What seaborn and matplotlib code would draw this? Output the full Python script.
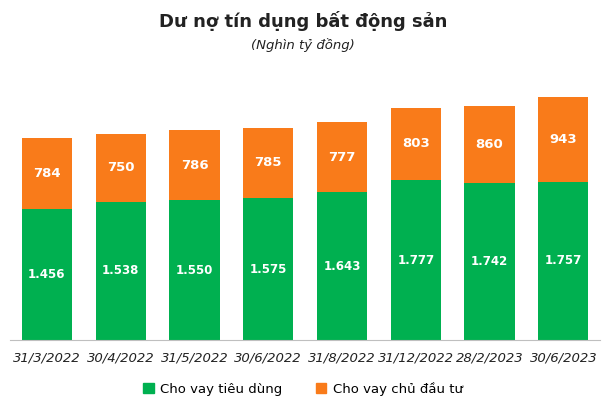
import matplotlib
matplotlib.use("Agg")
import matplotlib.pyplot as plt
import seaborn as sns
import pandas as pd
from matplotlib.patches import Patch

dates = ["31/3/2022","30/4/2022","31/5/2022","30/6/2022","31/8/2022","31/12/2022","28/2/2023","30/6/2023"]
consumer = [1456,1538,1550,1575,1643,1777,1742,1757]
developer = [784,750,786,785,777,803,860,943]

GREEN = "#00B050"
ORANGE = "#F97B1A"

def fmt(v):
    return f"{v:,}".replace(",", ".")

fig = plt.figure(figsize=(6.06,4.07), dpi=100)
ax = fig.add_axes([0.0165,0.1646,0.974,0.6265])
df = pd.DataFrame({"date":dates,"c":consumer,"d":developer})
sns.barplot(data=df, x="date", y="c", color=GREEN, width=0.68, ax=ax, saturation=1)
sns.barplot(data=df, x="date", y="d", color=ORANGE, width=0.68, ax=ax, saturation=1, bottom=df["c"])
for i,(c,d) in enumerate(zip(consumer,developer)):
    ax.text(i, c/2, fmt(c), ha="center", va="center", color="white", fontsize=8.5, fontweight="bold")
    ax.text(i, c+d/2, fmt(d), ha="center", va="center", color="white", fontsize=9.5, fontweight="bold")
ax.set_ylim(0,2833)
ax.set_xlim(-0.5,7.5)
ax.set_xlabel(""); ax.set_ylabel("")
ax.set_yticks([])
for s in ["top","right","left"]:
    ax.spines[s].set_visible(False)
ax.spines["bottom"].set_color("#BFBFBF")
ax.tick_params(axis="x", length=0, pad=8)
for t in ax.get_xticklabels():
    t.set_fontstyle("italic"); t.set_fontsize(9.5); t.set_color("#222222")
fig.text(0.5,0.948,"Dư nợ tín dụng bất động sản", ha="center", va="center", fontsize=13, fontweight="bold", color="#222222")
fig.text(0.5,0.89,"(Nghìn tỷ đồng)", ha="center", va="center", fontsize=9.5, fontstyle="italic", color="#222222")
fig.legend(handles=[Patch(color=GREEN,label="Cho vay tiêu dùng"),Patch(color=ORANGE,label="Cho vay chủ đầu tư")],
           loc="center", bbox_to_anchor=(0.5,0.045), ncol=2, frameon=False, fontsize=9.5,
           handlelength=0.8, handleheight=0.8, columnspacing=2.5, handletextpad=0.5)
fig.savefig("out.png", dpi=100)
